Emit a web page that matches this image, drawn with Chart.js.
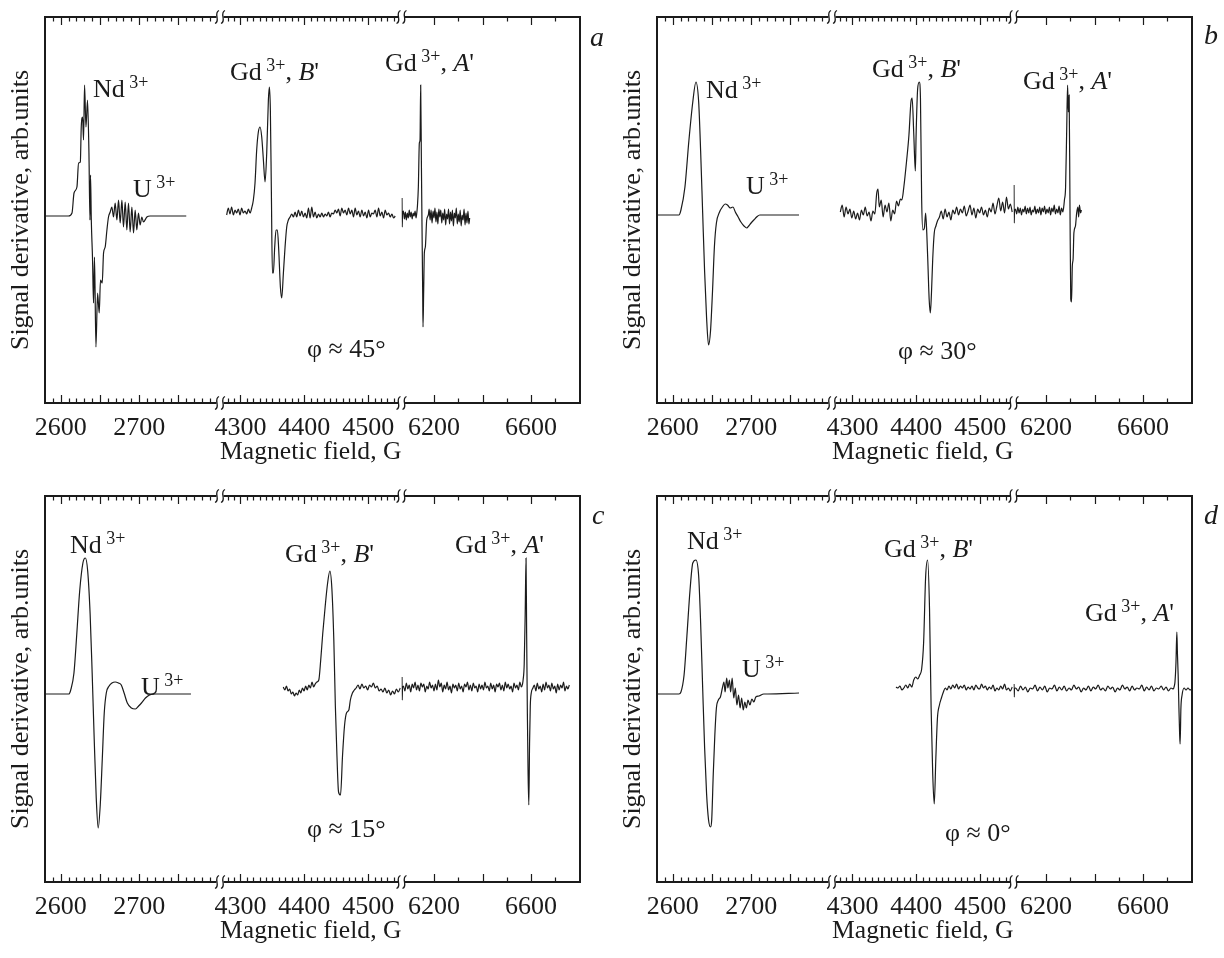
<!DOCTYPE html>
<html>
<head>
<meta charset="utf-8">
<script src="https://cdn.jsdelivr.net/npm/chart.js@4.4.1/dist/chart.umd.min.js"></script>
<style>
  html, body { margin: 0; padding: 0; background: #fff; }
  #fig { position: relative; width: 1224px; height: 958px; }
  .panel { position: absolute; width: 612px; height: 479px; }
</style>
</head>
<body>
<div id="fig">
  <div class="panel" style="left:0;top:0"><canvas id="pa" width="612" height="479"></canvas></div>
  <div class="panel" style="left:612px;top:0"><canvas id="pb" width="612" height="479"></canvas></div>
  <div class="panel" style="left:0;top:479px"><canvas id="pc" width="612" height="479"></canvas></div>
  <div class="panel" style="left:612px;top:479px"><canvas id="pd" width="612" height="479"></canvas></div>
</div>
<script>
// broken field axis: three windows, in G
const seg1Range = [2580, 2803];
const seg2Range = [4268, 4552];
const seg3Range = [6066, 6802];
const seg1Labels = [2600, 2700];
const seg2Labels = [4300, 4400, 4500];
const seg3Labels = [6200, 6600];
const signalRange = [-188, 198];

// phi ~ 45
const aNdField = [2580, 2610, 2614.4, 2617, 2620.7, 2622.8, 2625, 2626.2, 2627.9, 2629.1, 2630.4, 2632.2, 2634.2, 2636, 2637.3, 2638, 2639, 2640.6, 2641.8, 2643.1, 2644.9, 2647, 2649.1, 2650.7, 2652.9, 2654.6, 2656.7, 2658.9, 2660.9, 2663.1, 2665.2, 2667.3, 2669.4, 2671.6, 2673.7, 2675.8, 2678, 2680, 2682.2, 2684.3, 2686.4, 2688.5, 2690.7, 2692.8, 2694.9, 2697, 2699.1, 2701.2, 2703.4, 2705.4, 2709.8, 2714, 2760];
const aNdSignal = [-1, -1, 2, 22, 28, 52, 53, 88, 98, 75, 130, 88, 115, 62, -5, 40, -5, -45, -88, -42, -132, -78, -98, -65, -68, -38, -32, -15, -2, 3, 8, -2, 12, -5, 15, -8, 15, -12, 13, -15, 12, -17, 8, -18, 5, -15, 2, -10, -2, -7, -2, -1, -1];
const aGdBField = [4278.4, 4281, 4283.6, 4286.2, 4288.9, 4291.5, 4294.1, 4296.7, 4299.3, 4301.9, 4304.5, 4307.1, 4309.8, 4312.4, 4315, 4317.6, 4320.2, 4322.8, 4325.4, 4328, 4330.7, 4333.3, 4335.9, 4338.5, 4341.1, 4343.7, 4345.3, 4346.8, 4348.4, 4350, 4351.5, 4353.6, 4355.7, 4357.8, 4359.9, 4362.5, 4364.6, 4367.2, 4369.8, 4372.4, 4375, 4377.7, 4380.3, 4382.9, 4385.5, 4388.1, 4390.7, 4393.3, 4395.9, 4398.5, 4401.2, 4403.8, 4406.4, 4409, 4411.6, 4414.2, 4416.8, 4419.4, 4422.1, 4424.7, 4427.3, 4429.9, 4432.5, 4435.1, 4437.7, 4440.3, 4442.9, 4445.6, 4448.2, 4450.8, 4453.4, 4456, 4458.6, 4461.2, 4463.8, 4466.5, 4469.1, 4471.7, 4474.3, 4476.9, 4479.5, 4482.1, 4484.7, 4487.3, 4490, 4492.6, 4495.2, 4497.8, 4500.4, 4503, 4505.6, 4508.2, 4510.8, 4513.5, 4516.1, 4518.7, 4521.3, 4523.9, 4526.5, 4529.1, 4531.7, 4534.3, 4537, 4539.6, 4542.2];
const aGdBSignal = [0, 7, 1, 8, 0, 5, 2, 6, 0, 7, 2, 4, 1, 6, 2, 7, 15, 32, 65, 83, 88, 78, 55, 33, 62, 115, 128, 105, 22, -58, -58, -32, -15, -15, -35, -72, -83, -58, -32, -12, -5, -2, 1, -2, 3, -2, 5, -1, 4, -2, 2, -3, 7, -3, 8, -2, 3, -3, 1, -2, 2, -2, 1, -1, 3, -2, 2, 1, 5, 2, 6, -1, 7, 2, 5, 0, 7, 1, 5, -2, 7, 0, 4, -2, 5, -1, 3, -3, 5, -2, 2, 1, 5, -2, 7, -1, 3, -3, 5, 0, 2, -2, 1, -3, -1];
const aGdAField = [6068, 6069, 6070, 6074, 6078, 6082, 6086, 6090, 6094, 6098, 6102, 6106, 6110, 6114, 6118, 6122, 6126, 6129, 6131.4, 6135.5, 6139.6, 6142.4, 6145.1, 6147.9, 6150.6, 6152, 6153.4, 6154.7, 6157.5, 6160.2, 6164.3, 6169.9, 6176.7, 6180, 6184, 6188, 6192, 6196, 6200, 6204, 6208, 6212, 6216, 6220, 6224, 6228, 6232, 6236, 6240, 6244, 6248, 6252, 6256, 6260, 6264, 6268, 6272, 6276, 6280, 6284, 6288, 6292, 6296, 6300, 6304, 6308, 6312, 6316, 6320, 6324, 6328, 6332, 6336, 6340, 6344, 6347];
const aGdASignal = [17, -12, 0, 4, -4, 3, -5, 2, -3, 5, -2, 3, -4, 2, -1, 4, -3, 2, 8, 28, 72, 75, 130, 55, -12, -45, -78, -112, -75, -38, -32, -5, 0, 6, -5, 5, -8, 4, -3, 7, -7, 3, -9, 6, -2, 5, -8, 2, -5, 6, -10, 1, -4, 6, -9, 3, -6, 5, -11, 2, -3, 7, -9, 1, -7, 5, -11, 0, -5, 6, -10, 2, -8, 4, -9, -3];

// phi ~ 30
const bNdField = [2580, 2608, 2610.5, 2615.6, 2620.6, 2625.6, 2629.6, 2633.1, 2635.6, 2638.2, 2640.7, 2643.2, 2645.7, 2648.2, 2650.7, 2653.2, 2655.7, 2659.7, 2663.3, 2666.8, 2669.8, 2673.3, 2676.8, 2679.8, 2683.4, 2686.9, 2690.9, 2694.4, 2696.9, 2699.9, 2703.4, 2707, 2711, 2761];
const bNdSignal = [0, 0, 5, 28, 74, 113, 133, 113, 64, 2, -57, -103, -130, -116, -77, -31, -8, 3, 8, 11, 10, 7, 8, 3, -2, -7, -11, -13, -11, -8, -5, -2, 0, 0];
const bGdBField = [4281, 4284, 4287, 4290, 4293, 4296, 4299, 4302, 4305, 4308, 4311, 4314, 4317, 4320, 4323, 4326, 4329, 4332, 4335, 4338, 4340, 4342, 4345, 4348, 4351, 4354, 4357, 4360, 4363, 4366, 4369, 4372, 4375, 4377.3, 4380.4, 4384.7, 4388.4, 4391.5, 4393.4, 4396, 4398.4, 4399.6, 4402, 4404.6, 4406.4, 4408.3, 4410.2, 4412.6, 4414.5, 4416.3, 4418.2, 4420, 4421.9, 4423.7, 4425.6, 4428, 4430.6, 4433, 4436.1, 4439, 4442, 4445, 4448, 4451, 4454, 4457, 4460, 4463, 4466, 4469, 4472, 4475, 4478, 4481, 4484, 4487, 4490, 4493, 4496, 4499, 4502, 4505, 4508, 4511, 4514, 4517, 4520, 4523, 4526, 4529, 4532, 4535, 4538, 4541, 4544, 4547, 4550];
const bGdBSignal = [3, 10, -2, 8, 1, 6, -3, 4, -4, 2, -5, 5, 0, 8, -1, 3, -6, 4, 1, 22, 26, 8, 15, -2, 10, 3, 12, -6, 5, 1, 14, 9, 16, 15, 28, 54, 80, 113, 117, 80, 44, 80, 126, 133, 117, 15, -15, -13, 2, -18, -51, -84, -98, -77, -44, -18, -11, -6, -2, 4, -4, 6, -2, 3, -5, 5, 1, 8, 0, 6, 2, 9, -1, 4, 10, 0, 7, -3, 6, 2, 8, 0, 5, -2, 7, 3, 12, 1, 9, 17, 4, 13, 2, 18, 6, 11, 3];
const bGdAField = [6068, 6069, 6070, 6074, 6079, 6084, 6089, 6094, 6099, 6104, 6109, 6114, 6119, 6124, 6129, 6134, 6139, 6144, 6149, 6154, 6159, 6164, 6169, 6174, 6179, 6184, 6189, 6194, 6199, 6204, 6209, 6214, 6219, 6224, 6229, 6234, 6239, 6244, 6249, 6254, 6259, 6264, 6269, 6273, 6276, 6280.8, 6285.7, 6289, 6292.2, 6295.5, 6298.7, 6302, 6305.3, 6308.5, 6311.8, 6315, 6321.5, 6326.4, 6331.3, 6334.6, 6337.8, 6342.7, 6345.9];
const bGdASignal = [30, -8, 4, 6, 1, 8, 2, 7, 0, 6, 3, 9, 1, 7, 2, 8, 0, 5, 3, 9, 1, 6, 2, 8, 0, 7, 3, 9, 1, 6, 2, 8, 0, 7, 3, 10, 1, 6, 2, 9, 0, 7, 3, 8, 15, 28, 90, 130, 103, 120, 15, -84, -87, -51, -44, -18, -11, 2, 8, -2, 10, 2, 5];

// phi ~ 15
const cNdField = [2580, 2610.3, 2612.8, 2616.9, 2620.5, 2624.2, 2628.3, 2631.4, 2634.4, 2637.5, 2640.1, 2642.7, 2645.3, 2647.8, 2650.4, 2653, 2655.5, 2658.1, 2661.7, 2665.3, 2669.4, 2673.6, 2677.2, 2680.8, 2684.9, 2690, 2695.2, 2699.3, 2702.9, 2708, 2713.2, 2720.9, 2766];
const cNdSignal = [0, 0, 4, 21, 60, 103, 131, 136, 123, 80, 21, -45, -104, -134, -111, -65, -19, 1, 8, 11, 12, 11, 9, 1, -9, -14, -15, -12, -9, -4, -1, 0, 0];
const cGdBField = [4367, 4369.5, 4372, 4374.5, 4377, 4379.5, 4382, 4384.5, 4387, 4389.5, 4392, 4394.5, 4397, 4399.5, 4402, 4404.5, 4407, 4409.5, 4412, 4414.5, 4417, 4419.5, 4422.6, 4425.6, 4428.7, 4432.5, 4436.2, 4439.9, 4443, 4446.1, 4448.5, 4451, 4453.5, 4456.6, 4459.7, 4462.8, 4465.9, 4469.6, 4472, 4475.2, 4478.2, 4481, 4484, 4487, 4490, 4493, 4496, 4499, 4502, 4505, 4508, 4511, 4514, 4517, 4520, 4523, 4526, 4529, 4532, 4535, 4538, 4541, 4544, 4547, 4550];
const cGdBSignal = [7, 4, 8, 3, 5, 0, 2, -2, 1, -1, 4, 1, 6, 3, 8, 4, 9, 6, 12, 7, 10, 12, 14, 34, 60, 87, 110, 123, 106, 54, -12, -62, -98, -101, -62, -32, -19, -16, -6, 1, 4, 6, 9, 5, 10, 6, 8, 4, 9, 7, 11, 6, 8, 3, 5, 2, 6, 1, 4, -1, 3, 0, 5, 2, 6];
const cGdAField = [6068, 6069, 6070, 6074, 6080, 6086, 6092, 6098, 6104, 6110, 6116, 6122, 6128, 6134, 6140, 6146, 6152, 6158, 6164, 6170, 6176, 6182, 6188, 6194, 6200, 6206, 6212, 6218, 6224, 6230, 6236, 6242, 6248, 6254, 6260, 6266, 6272, 6278, 6284, 6290, 6296, 6302, 6308, 6314, 6320, 6326, 6332, 6338, 6344, 6350, 6356, 6362, 6368, 6374, 6380, 6386, 6392, 6398, 6404, 6410, 6416, 6422, 6428, 6434, 6440, 6446, 6452, 6458, 6464, 6470, 6476, 6482, 6488, 6494, 6500, 6506, 6512, 6518, 6524, 6530, 6536, 6542, 6548, 6554, 6560, 6565, 6567.4, 6572, 6576, 6579.5, 6582, 6585, 6588, 6591, 6594, 6597, 6601, 6608, 6614, 6620, 6626, 6632, 6638, 6644, 6650, 6656, 6662, 6668, 6674, 6680, 6686, 6692, 6698, 6704, 6710, 6716, 6722, 6728, 6734, 6740, 6746, 6752, 6758];
const cGdASignal = [17, -6, 6, 8, 3, 11, 5, 9, 2, 10, 6, 12, 4, 9, 3, 11, 7, 10, 2, 8, 5, 12, 6, 9, 3, 10, 4, 14, 7, 11, 2, 9, 5, 12, 4, 8, 1, 10, 6, 9, 3, 11, 5, 8, 2, 10, 7, 12, 4, 9, 3, 11, 6, 8, 2, 10, 5, 9, 4, 12, 6, 8, 3, 11, 5, 9, 2, 10, 7, 11, 4, 9, 3, 12, 6, 10, 5, 8, 2, 11, 6, 9, 4, 12, 7, 10, 14, 30, 80, 136, 60, -20, -80, -111, -50, -12, 1, 6, 9, 3, 11, 5, 8, 2, 10, 4, 12, 6, 9, 3, 11, 5, 8, 1, 10, 4, 9, 6, 12, 3, 8, 5, 9];

// phi ~ 0
const dNdField = [2580, 2608, 2610.5, 2614.5, 2618.1, 2622.1, 2625.6, 2629.6, 2633.1, 2635.6, 2638.2, 2640.7, 2643.2, 2645.7, 2648.2, 2649.7, 2651.7, 2653.7, 2655.7, 2658.2, 2660.8, 2663.3, 2665.3, 2666.8, 2668.8, 2670.3, 2672.3, 2673.8, 2675.8, 2677.8, 2679.8, 2681.8, 2683.9, 2685.9, 2687.9, 2689.9, 2691.9, 2693.9, 2695.9, 2698.4, 2700.9, 2703.4, 2705.9, 2710, 2716, 2721, 2761];
const dNdSignal = [0, 0, 2, 19, 58, 104, 131, 134, 118, 71, 6, -54, -100, -126, -133, -126, -80, -41, -14, -6, -3, 6, 12, 2, 16, 6, 14, 2, 16, -4, 6, -11, -1, -14, -4, -16, -8, -14, -6, -11, -5, -8, -3, -2, 0, 0, 1];
const dGdBField = [4368.1, 4371.2, 4374.3, 4377.3, 4380.4, 4383.5, 4386.6, 4389.7, 4392.8, 4395.9, 4399, 4402.1, 4405.2, 4408.3, 4411.4, 4414.5, 4417.6, 4420.6, 4423.1, 4425.6, 4428, 4430.5, 4433, 4436.1, 4439.2, 4442.3, 4445.4, 4448, 4451, 4454, 4457, 4460, 4463, 4466, 4469, 4472, 4475, 4478, 4481, 4484, 4487, 4490, 4493, 4496, 4499, 4502, 4505, 4508, 4511, 4514, 4517, 4520, 4523, 4526, 4529, 4532, 4535, 4538, 4541, 4544, 4547, 4550];
const dGdBSignal = [7, 6, 8, 4, 6, 9, 6, 10, 7, 14, 17, 15, 19, 25, 52, 117, 134, 85, -14, -80, -110, -64, -24, -11, -4, 2, 6, 4, 8, 5, 9, 6, 10, 5, 8, 6, 9, 4, 7, 5, 8, 4, 9, 6, 5, 10, 6, 8, 4, 7, 5, 9, 3, 6, 4, 8, 5, 10, 4, 6, 3, 7];
const dGdAField = [6068, 6069, 6070, 6075, 6085, 6095, 6105, 6115, 6125, 6135, 6145, 6155, 6165, 6175, 6185, 6195, 6205, 6215, 6225, 6235, 6245, 6255, 6265, 6275, 6285, 6295, 6305, 6315, 6325, 6335, 6345, 6355, 6365, 6375, 6385, 6395, 6405, 6415, 6425, 6435, 6445, 6455, 6465, 6475, 6485, 6495, 6505, 6515, 6525, 6535, 6545, 6555, 6565, 6575, 6585, 6595, 6605, 6615, 6625, 6635, 6645, 6655, 6665, 6675, 6685, 6695, 6705, 6715, 6725, 6729, 6731.8, 6736, 6739.5, 6742, 6744.9, 6748.1, 6751, 6753, 6756.3, 6761.1, 6769.3, 6777.4, 6785.5, 6793.7, 6801];
const dGdASignal = [10, -3, 5, 6, 3, 8, 4, 7, 2, 6, 5, 9, 3, 7, 4, 8, 2, 6, 5, 9, 3, 7, 4, 8, 3, 6, 4, 9, 5, 7, 2, 6, 4, 8, 3, 7, 5, 9, 4, 6, 3, 8, 5, 7, 2, 6, 4, 9, 5, 7, 3, 8, 4, 6, 5, 9, 3, 7, 4, 8, 3, 6, 5, 8, 4, 7, 3, 6, 5, 8, 12, 32, 62, 40, 19, -14, -40, -50, -14, -1, 6, 4, 6, 4, 5];

const ink = '#1b1b1b';
const serif = '"Liberation Serif", "Times New Roman", serif';
Chart.defaults.font.family = serif;
Chart.defaults.color = ink;

// inward tick marks on each window: minor step, major every
const tickSteps = [
  { from: 2590, step: 10, major: 50 },
  { from: 4280, step: 10, major: 100 },
  { from: 6200, step: 100, major: 200 }
];

const fonts = {
  r: '26px ' + serif,
  s: '18px ' + serif,
  i: 'italic 26px ' + serif,
  l: 'italic 28px ' + serif
};

function pts(xs, ys) {
  return xs.map((x, i) => ({ x: x, y: ys[i] }));
}

function rich(ctx, x, y, parts) {
  let cx = x;
  parts.forEach(([txt, kind]) => {
    ctx.font = fonts[kind];
    ctx.fillText(txt, cx, kind === 's' ? y - 9 : y);
    cx += ctx.measureText(txt).width;
  });
}

// the "S S" mark where the field axis is cut
function breakMark(ctx, bx, by) {
  ctx.fillStyle = '#fff';
  ctx.fillRect(bx - 3.5, by - 2, 7, 4);
  ctx.lineWidth = 1.3;
  [-3, 3].forEach(dx => {
    const cx = bx + dx;
    ctx.beginPath();
    ctx.moveTo(cx - 2, by + 6.5);
    ctx.bezierCurveTo(cx + 4, by + 4, cx - 4, by - 4, cx + 2, by - 6.5);
    ctx.stroke();
  });
}

function decor(p) {
  return {
    id: 'decor',
    afterDraw(chart) {
      const ctx = chart.ctx;
      const { left, right, top, bottom } = chart.chartArea;
      const segs = ['x1', 'x2', 'x3'].map(id => chart.scales[id]);
      ctx.save();
      ctx.strokeStyle = ink;
      ctx.lineWidth = 1.2;
      ctx.beginPath();
      segs.forEach((s, i) => {
        const t = tickSteps[i];
        for (let v = t.from; v <= s.max; v += t.step) {
          const x = Math.round(s.getPixelForValue(v)) + 0.5;
          if (x > s.right - 4) break;
          const len = v % t.major === 0 ? 8 : 4.5;
          ctx.moveTo(x, bottom); ctx.lineTo(x, bottom - len);
          ctx.moveTo(x, top); ctx.lineTo(x, top + len);
        }
      });
      ctx.stroke();
      ctx.lineWidth = 2;
      ctx.strokeRect(left, top, right - left, bottom - top);

      [segs[0].right, segs[1].right].forEach(bx => {
        breakMark(ctx, bx, top);
        breakMark(ctx, bx, bottom);
      });

      // peak labels
      ctx.fillStyle = ink;
      ctx.textAlign = 'left';
      ctx.textBaseline = 'alphabetic';
      const at = p.place;
      rich(ctx, at.nd[0], at.nd[1], [['Nd', 'r'], [' 3+', 's']]);
      rich(ctx, at.u[0], at.u[1], [['U', 'r'], [' 3+', 's']]);
      rich(ctx, at.gdB[0], at.gdB[1], [['Gd', 'r'], [' 3+', 's'], [', ', 'r'], ['B', 'i'], ["'", 'r']]);
      rich(ctx, at.gdA[0], at.gdA[1], [['Gd', 'r'], [' 3+', 's'], [', ', 'r'], ['A', 'i'], ["'", 'r']]);
      rich(ctx, at.phi[0], at.phi[1], [['\u03c6 \u2248 ' + p.angle, 'r']]);
      rich(ctx, at.letter[0], at.letter[1], [[p.letter, 'l']]);
      ctx.restore();
    }
  };
}

const panels = [
  { canvas: 'pa', letter: 'a', angle: '45\u00b0',
    nd: [aNdField, aNdSignal], gdB: [aGdBField, aGdBSignal], gdA: [aGdAField, aGdASignal],
    place: { nd: [93, 97], u: [133, 197], gdB: [230, 80], gdA: [385, 71], phi: [307, 357], letter: [590, 46] } },
  { canvas: 'pb', letter: 'b', angle: '30\u00b0',
    nd: [bNdField, bNdSignal], gdB: [bGdBField, bGdBSignal], gdA: [bGdAField, bGdASignal],
    place: { nd: [94, 98], u: [134, 194], gdB: [260, 77], gdA: [411, 89], phi: [286, 359], letter: [592, 44] } },
  { canvas: 'pc', letter: 'c', angle: '15\u00b0',
    nd: [cNdField, cNdSignal], gdB: [cGdBField, cGdBSignal], gdA: [cGdAField, cGdASignal],
    place: { nd: [70, 74], u: [141, 216], gdB: [285, 83], gdA: [455, 74], phi: [307, 358], letter: [592, 45] } },
  { canvas: 'pd', letter: 'd', angle: '0\u00b0',
    nd: [dNdField, dNdSignal], gdB: [dGdBField, dGdBSignal], gdA: [dGdAField, dGdASignal],
    place: { nd: [75, 70], u: [130, 198], gdB: [272, 78], gdA: [473, 142], phi: [333, 362], letter: [592, 45] } }
];

function fieldAxis(range, labels, weight, title) {
  return {
    type: 'linear',
    position: 'bottom',
    stack: 'field',
    stackWeight: weight,
    min: range[0],
    max: range[1],
    afterBuildTicks: s => { s.ticks = labels.map(v => ({ value: v })); },
    afterFit: s => { s.height = 76; },
    grid: { display: false, drawTicks: false },
    border: { display: false },
    ticks: {
      autoSkip: false, maxRotation: 0, minRotation: 0, padding: 10,
      color: ink, font: { size: 26 },
      callback: v => String(v)
    },
    title: title
      ? { display: true, text: title, color: ink, font: { size: 26 }, padding: { top: 0, bottom: 11 } }
      : { display: false }
  };
}

function line(data, axis) {
  return {
    data: data,
    xAxisID: axis,
    yAxisID: 'y',
    borderColor: ink,
    borderWidth: 1.2,
    pointRadius: 0,
    cubicInterpolationMode: 'monotone',
    fill: false
  };
}

panels.forEach(p => {
  new Chart(document.getElementById(p.canvas), {
    type: 'line',
    data: {
      datasets: [
        line(pts(p.nd[0], p.nd[1]), 'x1'),
        line(pts(p.gdB[0], p.gdB[1]), 'x2'),
        line(pts(p.gdA[0], p.gdA[1]), 'x3')
      ]
    },
    options: {
      responsive: false,
      animation: false,
      devicePixelRatio: 1,
      events: [],
      layout: { padding: { left: 0, right: 32, top: 17, bottom: 0 } },
      plugins: { legend: { display: false }, tooltip: { enabled: false } },
      scales: {
        x1: fieldAxis(seg1Range, seg1Labels, 175, null),
        x2: fieldAxis(seg2Range, seg2Labels, 181.5, 'Magnetic field, G'),
        x3: fieldAxis(seg3Range, seg3Labels, 178.5, null),
        y: {
          type: 'linear',
          position: 'left',
          min: signalRange[0],
          max: signalRange[1],
          afterFit: s => { s.width = 45; },
          grid: { display: false, drawTicks: false },
          border: { display: false },
          ticks: { display: false },
          title: { display: true, text: 'Signal derivative, arb.units', color: ink, font: { size: 26 }, padding: { top: 6, bottom: 0 } }
        }
      }
    },
    plugins: [decor(p)]
  });
});
</script>
</body>
</html>
